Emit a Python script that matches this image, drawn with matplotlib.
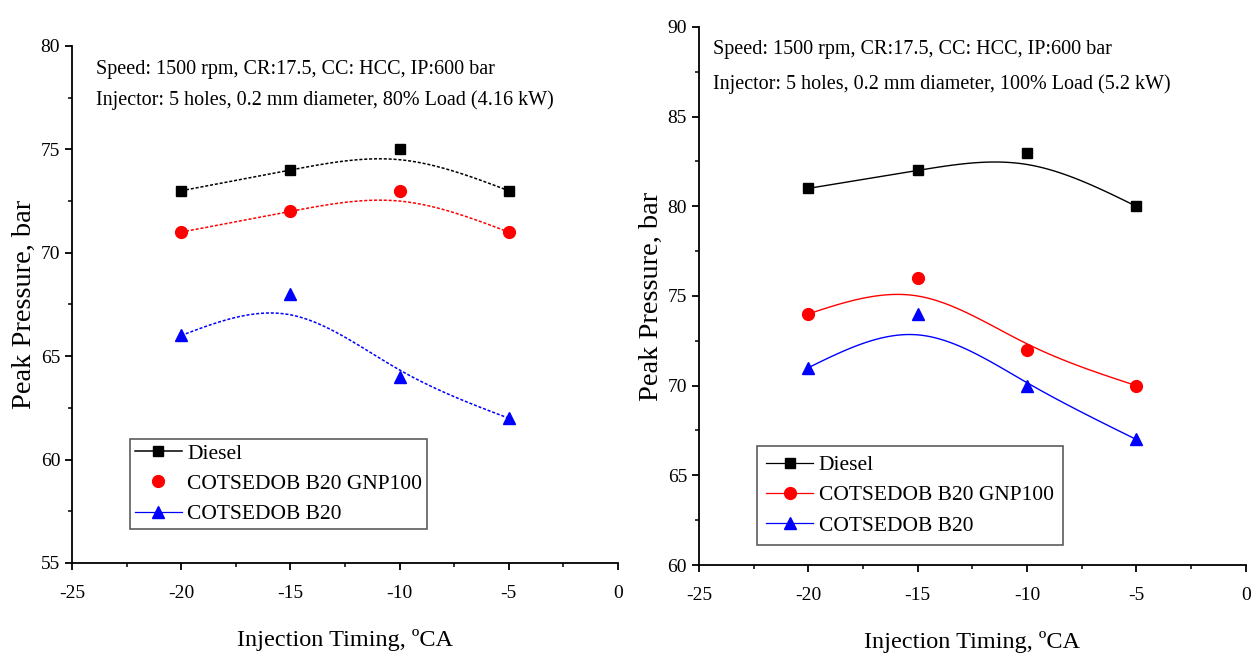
import numpy as np
import matplotlib.pyplot as plt
from matplotlib.lines import Line2D

plt.rcParams['font.family'] = ['Liberation Serif', 'DejaVu Serif']
plt.rcParams['axes.unicode_minus'] = False

# data
timing = [-20, -15, -10, -5]
labels = ['Diesel', 'COTSEDOB B20 GNP100', 'COTSEDOB B20']

diesel_80 = [73, 74, 75, 73]
gnp_80 = [71, 72, 73, 71]
b20_80 = [66, 68, 64, 62]

diesel_100 = [81, 82, 83, 80]
gnp_100 = [74, 76, 72, 70]
b20_100 = [71, 74, 70, 67]

note1 = 'Speed: 1500 rpm, CR:17.5, CC: HCC, IP:600 bar'
note2_80 = 'Injector: 5 holes, 0.2 mm diameter, 80% Load (4.16 kW)'
note2_100 = 'Injector: 5 holes, 0.2 mm diameter, 100% Load (5.2 kW)'


def bspline(xs, ys, n=40):
    # uniform cubic B-spline, data as control points, end points reflected
    p = np.column_stack([xs, ys]).astype(float)
    p = np.vstack([2 * p[0] - p[1], p, 2 * p[-1] - p[-2]])
    t = np.linspace(0, 1, n)
    b0 = (1 - t)**3 / 6
    b1 = (3 * t**3 - 6 * t**2 + 4) / 6
    b2 = (-3 * t**3 + 3 * t**2 + 3 * t + 1) / 6
    b3 = t**3 / 6
    segs = []
    for i in range(len(p) - 3):
        seg = (np.outer(b0, p[i]) + np.outer(b1, p[i + 1])
               + np.outer(b2, p[i + 2]) + np.outer(b3, p[i + 3]))
        segs.append(seg)
    c = np.vstack(segs)
    return c[:, 0], c[:, 1]


styles = [dict(color='black', marker='s', ms=7),
          dict(color='red', marker='o', ms=8.5),
          dict(color='blue', marker='^', ms=8.5)]

fig = plt.figure(figsize=(12.57, 6.55), dpi=100)
ax1 = fig.add_axes([0.0573, 0.1405, 0.4343, 0.7893])
ax2 = fig.add_axes([0.556, 0.1374, 0.435, 0.8214])


def setup(ax, ylim, ymaj, ypad):
    ax.set_xlim(-25, 0)
    ax.set_ylim(*ylim)
    ax.set_xticks(np.arange(-25, 1, 5))
    ax.set_xticks(np.arange(-25, 1, 2.5), minor=True)
    ax.set_yticks(np.arange(ylim[0], ylim[1] + 1, ymaj))
    ax.set_yticks(np.arange(ylim[0], ylim[1] + 0.1, ymaj / 2), minor=True)
    for s in ['top', 'right']:
        ax.spines[s].set_visible(False)
    for s in ['left', 'bottom']:
        ax.spines[s].set_linewidth(1.3)
    ax.tick_params(which='major', direction='out', length=5, width=1.3, labelsize=14)
    ax.tick_params(axis='x', which='major', pad=11)
    ax.tick_params(which='minor', direction='out', length=3, width=1.1)
    ax.set_xlabel('Injection Timing, ºCA', fontsize=17.5, labelpad=19)
    ax.set_ylabel('Peak Pressure, bar', fontsize=20.5, labelpad=ypad)


def legend(ax, handles, anchor, pad):
    leg = ax.legend(handles, labels, loc='upper left', bbox_to_anchor=anchor,
                    fontsize=15.5, frameon=True, fancybox=False, edgecolor='#333333',
                    handlelength=2.2, handletextpad=0.25, borderpad=pad,
                    labelspacing=0.47, borderaxespad=0)
    leg.get_frame().set_linewidth(1.2)


# left panel (80% load)
setup(ax1, (55, 80), 5, 3)
for ys, st in zip([diesel_80, gnp_80, b20_80], styles):
    bx, by = bspline(timing, ys)
    ax1.plot(bx, by, color=st['color'], ls=(0, (2, 1.2)), lw=1.1)
    ax1.plot(timing, ys, ls='none', marker=st['marker'], ms=st['ms'], color=st['color'])
ax1.text(0.044, 0.955, note1, transform=ax1.transAxes, fontsize=14.5, va='center')
ax1.text(0.044, 0.895, note2_80, transform=ax1.transAxes, fontsize=14.5, va='center')
h1 = [Line2D([], [], color='black', marker='s', ms=7, lw=1.1),
      Line2D([], [], color='red', marker='o', ms=8.5, ls='none'),
      Line2D([], [], color='blue', marker='^', ms=8.5, lw=0.9)]
legend(ax1, h1, (0.106, 0.240), 0.22)

# right panel (100% load)
setup(ax2, (60, 90), 5, 3)
for ys, st in zip([diesel_100, gnp_100, b20_100], styles):
    bx, by = bspline(timing, ys)
    ax2.plot(bx, by, color=st['color'], lw=1.0)
    ax2.plot(timing, ys, ls='none', marker=st['marker'], ms=st['ms'], color=st['color'])
ax2.text(0.026, 0.959, note1, transform=ax2.transAxes, fontsize=14.5, va='center')
ax2.text(0.026, 0.893, note2_100, transform=ax2.transAxes, fontsize=14.5, va='center')
h2 = [Line2D([], [], color=st['color'], marker=st['marker'], ms=st['ms'], lw=0.9)
      for st in styles]
legend(ax2, h2, (0.106, 0.221), 0.42)

fig.savefig('out.png', dpi=100)
